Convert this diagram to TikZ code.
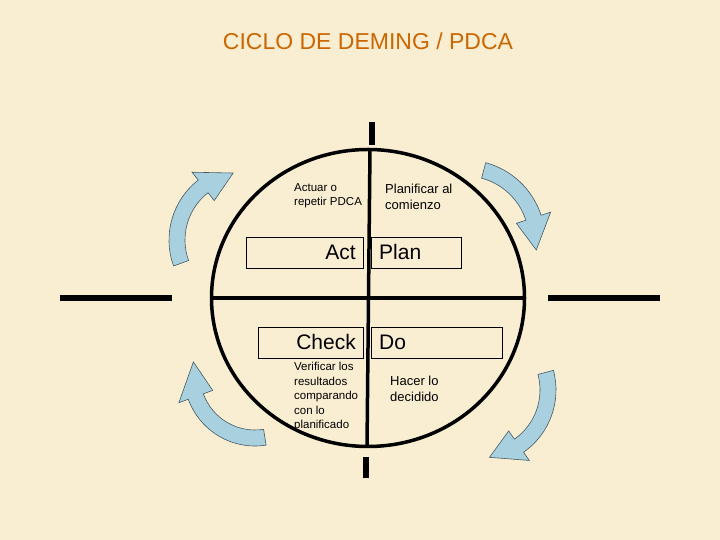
\documentclass[tikz,border=0pt]{standalone}
\usepackage{fontspec}
\setmainfont{Liberation Sans}
\definecolor{bg}{RGB}{250,238,210}
\definecolor{ttl}{RGB}{204,102,0}
\definecolor{arr}{RGB}{168,208,222}
\definecolor{arrl}{RGB}{70,90,100}
\newcommand{\carrow}[6]{% cx cy R a b t
  \filldraw[arrw] (#1,#2) ++(#4:#3+8) arc[start angle=#4, end angle=#5, radius=#3+8]
   -- ($(#1,#2)+(#5:#3+18)$) -- ($(#1,#2)+(#6:#3)$) -- ($(#1,#2)+(#5:#3-18)$)
   -- ($(#1,#2)+(#5:#3-8)$) arc[start angle=#5, end angle=#4, radius=#3-8] -- cycle;}
\usetikzlibrary{calc}
\begin{document}
\begin{tikzpicture}[x=1pt,y=1pt,
  box/.style={draw,line width=0.8pt,fill=none},
  bar/.style={line width=6pt},
  heavy/.style={line width=3.5pt},
  arrw/.style={fill=arr,draw=arrl,line width=0.6pt},
  small/.style={font=\fontsize{11.5}{14.5}\selectfont,align=left,inner sep=0pt},
  big/.style={font=\fontsize{21}{22}\selectfont,inner sep=0pt}]
\fill[bg] (0,0) rectangle (720,540);
\useasboundingbox (0,0) rectangle (720,540);
\node[font=\fontsize{23}{26}\selectfont,text=ttl] (title) at (368,499) {CICLO DE DEMING / PDCA};
% circle and cross
\draw[heavy] (368,242) ellipse[x radius=156.5, y radius=148.5];
\coordinate (vt) at (370,391); \coordinate (vb) at (367,93);
\coordinate (hl) at (212,242); \coordinate (hr) at (525,242);
\draw[heavy] (vt) -- (vb);
\draw[heavy] (hl) -- (hr);
% bars
\coordinate (b1a) at (372,418); \coordinate (b1b) at (372,395);
\coordinate (b2a) at (366,83); \coordinate (b2b) at (366,62);
\coordinate (b3a) at (60,242); \coordinate (b3b) at (172,242);
\coordinate (b4a) at (548,242); \coordinate (b4b) at (660,242);
\draw[bar] (b1a) -- (b1b); \draw[bar] (b2a) -- (b2b);
\draw[bar] (b3a) -- (b3b); \draw[bar] (b4a) -- (b4b);
% boxes
\draw[box] (246,303) rectangle (363,272);
\draw[box] (371,303) rectangle (461,272);
\draw[box] (258,213) rectangle (363,182);
\draw[box] (371,213) rectangle (502,182);
\node[big,anchor=east] (act) at (356,288) {Act};
\node[big,anchor=west] (plan) at (379,288) {Plan};
\node[big,anchor=east] (check) at (356,198) {Check};
\node[big,anchor=west] (do) at (379,198) {Do};
% labels
\node[small,anchor=north west] (l1) at (294,357) {Actuar o\\repetir PDCA};
\node[small,anchor=north west,font=\fontsize{13}{16}\selectfont] (l2) at (385,356) {Planificar al\\comienzo};
\node[small,anchor=north west] (l3) at (294,178) {Verificar los\\resultados\\comparando\\con lo\\planificado};
\node[small,anchor=north west,font=\fontsize{13}{16}\selectfont] (l4) at (390,164) {Hacer lo\\decidido};
% curved arrows
\carrow{465}{300}{72}{75}{18}{-8}
\carrow{245}{300}{68}{200}{128}{100}
\carrow{255}{165}{63}{279}{200}{168}
\carrow{480}{150}{68}{15}{-55}{-82}
\end{tikzpicture}
\end{document}
